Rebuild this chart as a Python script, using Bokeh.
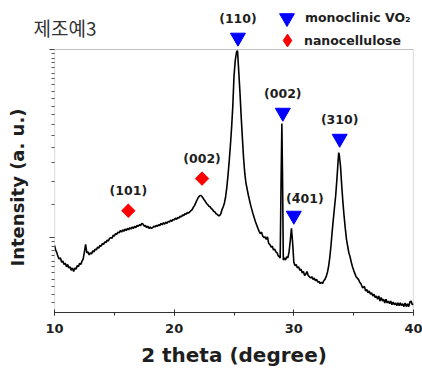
import numpy as np
from bokeh.plotting import figure
from bokeh.models import (Range1d, FixedTicker, SingleIntervalTicker, BoxAnnotation,
                          Legend, LegendItem)
from bokeh.core.properties import value
from bokeh.embed import file_html
from bokeh.resources import INLINE

# ---- data ----
two_theta = [
    10.0, 10.1, 10.2, 10.3, 10.4, 10.5, 10.6, 10.7, 10.8, 10.9,
    11.0, 11.1, 11.2, 11.3, 11.4, 11.5, 11.6, 11.7, 11.8, 11.9,
    12.0, 12.1, 12.2, 12.3, 12.4, 12.5, 12.6, 12.7, 12.8, 12.9,
    13.0, 13.1, 13.2, 13.3, 13.4, 13.5, 13.6, 13.7, 13.8, 13.9,
    14.0, 14.1, 14.2, 14.3, 14.4, 14.5, 14.6, 14.7, 14.8, 14.9,
    15.0, 15.1, 15.2, 15.3, 15.4, 15.5, 15.6, 15.7, 15.8, 15.9,
    16.0, 16.1, 16.2, 16.3, 16.4, 16.5, 16.6, 16.7, 16.8, 16.9,
    17.0, 17.1, 17.2, 17.3, 17.4, 17.5, 17.6, 17.7, 17.8, 17.9,
    18.0, 18.1, 18.2, 18.3, 18.4, 18.5, 18.6, 18.7, 18.8, 18.9,
    19.0, 19.1, 19.2, 19.3, 19.4, 19.5, 19.6, 19.7, 19.8, 19.9,
    20.0, 20.1, 20.2, 20.3, 20.4, 20.5, 20.6, 20.7, 20.8, 20.9,
    21.0, 21.1, 21.2, 21.3, 21.4, 21.5, 21.6, 21.7, 21.8, 21.9,
    22.0, 22.1, 22.2, 22.3, 22.4, 22.5, 22.6, 22.7, 22.8, 22.9,
    23.0, 23.1, 23.2, 23.3, 23.4, 23.5, 23.6, 23.7, 23.8, 23.9,
    24.0, 24.1, 24.2, 24.3, 24.4, 24.5, 24.6, 24.7, 24.8, 24.9,
    25.0, 25.1, 25.2, 25.25, 25.3, 25.4, 25.5, 25.6, 25.7, 25.8, 25.9,
    26.0, 26.2, 26.4, 26.6, 26.8,
    27.0, 27.1, 27.2, 27.3, 27.4, 27.5, 27.6, 27.7, 27.8, 27.9,
    28.0, 28.1, 28.2, 28.3, 28.4, 28.5, 28.6, 28.7, 28.8, 28.86, 28.93,
    29.0, 29.06, 29.12, 29.2, 29.3, 29.4, 29.5, 29.6, 29.7, 29.8, 29.9,
    30.0, 30.1, 30.2, 30.3, 30.4, 30.5, 30.6, 30.7, 30.8, 30.9,
    31.0, 31.1, 31.2, 31.3, 31.4, 31.5, 31.6, 31.7, 31.8, 31.9,
    32.0, 32.1, 32.2, 32.3, 32.4, 32.5, 32.6, 32.7, 32.8, 32.9,
    33.0, 33.1, 33.2, 33.3, 33.4, 33.5, 33.6, 33.7, 33.75, 33.8, 33.9,
    34.0, 34.1, 34.2, 34.3, 34.4, 34.5, 34.6, 34.7, 34.8, 34.9,
    35.0, 35.2, 35.4, 35.5, 35.6, 35.75, 35.9,
    36.0, 36.1, 36.2, 36.3, 36.4, 36.5, 36.6, 36.7, 36.8, 36.9,
    37.0, 37.1, 37.2, 37.3, 37.4, 37.5, 37.6, 37.7, 37.8, 37.9,
    38.0, 38.1, 38.2, 38.3, 38.4, 38.5, 38.6, 38.7, 38.8, 38.9,
    39.0, 39.1, 39.2, 39.3, 39.4, 39.5, 39.6, 39.7, 39.8, 39.9, 40.0,
]
intensity = [
    91, 86, 83, 79, 77, 78, 74, 75, 72, 73,
    70, 72, 69, 70, 67, 69, 66, 69, 68, 71,
    70, 73, 72, 75, 77, 84, 92, 83, 84, 81,
    83, 82, 85, 84, 87, 86, 89, 88, 91, 90,
    93, 92, 95, 94, 97, 96, 99, 100, 99, 103,
    102, 105, 104, 107, 106, 109, 107, 110, 108, 111,
    109, 112, 110, 113, 111, 114, 112, 115, 113, 116,
    115, 117, 116, 119, 118, 115, 116, 113, 115, 112,
    114, 112, 113, 115, 114, 116, 115, 117, 116, 119,
    117, 120, 118, 121, 119, 122, 121, 124, 122, 125,
    124, 127, 125, 128, 127, 130, 129, 132, 131, 134,
    133, 136, 135, 137, 139, 141, 145, 148, 153, 158,
    163, 166, 168, 166, 163, 159, 156, 152, 150, 147,
    146, 143, 141, 138, 137, 134, 133, 131, 131, 134,
    141, 146, 153, 165, 185, 215, 255, 310, 385, 500,
    720, 870, 960, 985, 975, 760, 590, 440, 340, 265, 220,
    195, 168, 148, 133, 121,
    112, 108, 105, 107, 102, 100, 101, 98, 101, 93,
    92, 89, 90, 86, 87, 84, 83, 80, 79, 78, 190,
    404, 200, 76, 78, 76, 79, 78, 84, 96, 112, 94,
    74, 71, 72, 69, 70, 67, 68, 65, 66, 63,
    64, 66, 63, 62, 61, 62, 60, 61, 59, 60,
    58, 58.5, 57, 58, 57, 59, 60, 62, 65, 70,
    78, 90, 107, 125, 145, 168, 205, 255, 283, 275, 240,
    190, 155, 130, 112, 98, 90, 83, 79, 74, 70,
    67, 62, 60, 58, 57, 54, 55,
    52, 53, 51, 52, 50, 51, 49, 50, 48, 49,
    47, 49, 46, 48, 46, 47, 45, 47, 45, 46,
    44.5, 46, 44, 45.5, 44, 45, 43.5, 45, 43.5, 45,
    43.5, 44.5, 43, 45, 43, 44.5, 43, 45.5, 46, 44, 44.5,
]

vo2_two_theta = [25.33, 29.08, 33.83, 30.0]
vo2_marker_y = [1158, 462, 336, 131]
vo2_hkl = ["(110)", "(002)", "(310)", "(4\u030401)"]

nc_two_theta = [16.17, 22.33]
nc_marker_y = [139, 206]
nc_hkl = ["(101)", "(002)"]

legend_labels = ["monoclinic VO\u2082", "nanocellulose"]
title_text = "제조예3"
x_label = "2 theta (degree)"
y_label = "Intensity (a. u.)"

FONT = "DejaVu Sans"
INK = "#1e1e1e"
X0, X1, Y0, Y_BOX_TOP = 10, 40, 40, 1000

p = figure(width=422, height=369, x_range=Range1d(X0, X1), y_range=Range1d(Y0, 1822),
           y_axis_type="log", output_backend="svg", toolbar_location=None,
           min_border_left=54, min_border_right=9, min_border_top=0, min_border_bottom=57)
p.outline_line_color = None
p.grid.visible = False

# x axis
xa = p.xaxis[0]
xa.ticker = SingleIntervalTicker(interval=10, num_minor_ticks=2)
xa.axis_line_color = "#333333"
xa.axis_line_width = 1.2
xa.major_tick_line_color = "#333333"
xa.minor_tick_line_color = "#333333"
xa.major_tick_in = 3
xa.major_tick_out = 3
xa.minor_tick_in = 0
xa.minor_tick_out = 3
xa.major_label_text_font = FONT
xa.major_label_text_font_style = "bold"
xa.major_label_text_font_size = "13px"
xa.major_label_text_color = INK
xa.major_label_standoff = 8
xa.axis_label = x_label
xa.axis_label_text_font = FONT
xa.axis_label_text_font_style = "bold"
xa.axis_label_text_font_size = "20px"
xa.axis_label_text_color = INK
xa.axis_label_standoff = 7

# y axis (log, unlabeled ticks)
ya = p.yaxis[0]
y_minor = list(range(45, 100, 5)) + list(range(150, 1000, 50))
ya.ticker = FixedTicker(ticks=[100, 1000], minor_ticks=y_minor)
ya.axis_line_color = None
ya.major_tick_line_color = "#444444"
ya.minor_tick_line_color = "#555555"
ya.major_tick_in = 0
ya.major_tick_out = 5
ya.minor_tick_in = 0
ya.minor_tick_out = 3
ya.major_label_overrides = {100: "", 1000: ""}
ya.major_label_standoff = 0

# frame box (data region)
p.add_layout(BoxAnnotation(left=X0, right=X1, bottom=Y0, top=Y_BOX_TOP,
                           fill_color=None, line_color="#333333", line_width=1.2))

curve = p.line(two_theta, intensity, line_color="black", line_width=1.6)

tri = p.scatter(vo2_two_theta, vo2_marker_y, marker="inverted_triangle", size=15,
                fill_color="#0000ff", line_color="#0000ff")
# diamond-shaped key used by the legend (hidden under the rotated squares)
dia_key = p.scatter(nc_two_theta, nc_marker_y, marker="diamond", size=12,
                    fill_color="#ff0000", line_color="#ff0000")
dia = p.scatter(nc_two_theta, nc_marker_y, marker="square", angle=np.pi / 4, size=9.5,
                fill_color="#ff0000", line_color="#ff0000")

txt = dict(text_align="center", text_baseline="middle", text_font=value(FONT),
           text_font_style="bold", text_font_size="12.5px", text_color=INK)
p.text(x=vo2_two_theta[:3], y=vo2_marker_y[:3], text=vo2_hkl[:3], y_offset=-19, **txt)
p.text(x=vo2_two_theta[3:], y=vo2_marker_y[3:], text=vo2_hkl[3:], y_offset=-17, x_offset=11, **txt)
p.text(x=nc_two_theta, y=nc_marker_y, text=nc_hkl, y_offset=-20, **txt)

leg_style = dict(padding=0, margin=0, spacing=0, border_line_color=None,
                 background_fill_alpha=0, label_text_font=FONT,
                 label_text_font_style="bold", label_text_font_size="12.5px",
                 label_text_color=INK)
leg1 = Legend(items=[LegendItem(label=legend_labels[0], renderers=[tri])],
              location=(214, 276), glyph_width=37, glyph_height=37, label_standoff=0,
              **leg_style)
leg2 = Legend(items=[LegendItem(label=legend_labels[1], renderers=[dia_key])],
              location=(217, 256), glyph_width=32, glyph_height=32, label_standoff=1,
              **leg_style)
p.add_layout(leg1)
p.add_layout(leg2)

# texts outside the data box, drawn at overlay level so they are not clipped
p.text(x=[X0], y=[Y_BOX_TOP], text=[title_text], x_offset=-21, y_offset=-22,
       text_align="left", text_baseline="middle", text_font=value("Noto Sans CJK KR"),
       text_font_size="19px", text_color="#333333", level="overlay")
p.text(x=[X0], y=[Y0], text=[y_label], x_offset=-37, y_offset=-125, angle=np.pi / 2,
       text_align="center", text_baseline="middle", text_font=value(FONT),
       text_font_style="bold", text_font_size="18px", text_color=INK, level="overlay")

open("out.html", "w").write(file_html(p, INLINE))
